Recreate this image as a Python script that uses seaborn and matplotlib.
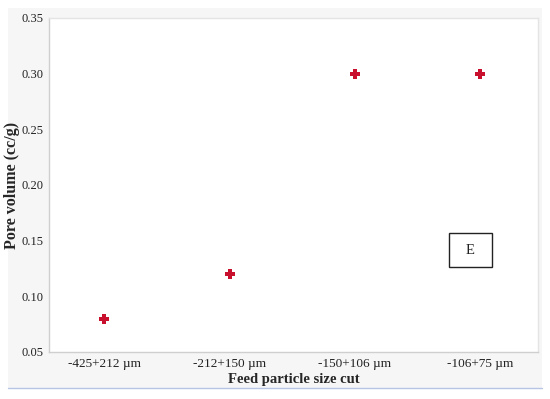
import matplotlib
matplotlib.use("Agg")
import matplotlib.pyplot as plt
import seaborn as sns
import pandas as pd
from matplotlib.patches import Rectangle

categories = ["-425+212 µm", "-212+150 µm", "-150+106 µm", "-106+75 µm"]
pore_volume = [0.08, 0.12, 0.30, 0.30]
y_ticks = [0.05, 0.10, 0.15, 0.20, 0.25, 0.30, 0.35]

sns.set_theme(style="white")
plt.rcParams['font.family'] = ['Liberation Serif', 'DejaVu Serif']

df = pd.DataFrame({"cut": categories, "pv": pore_volume})

fig = plt.figure(figsize=(5.5, 3.99), dpi=100, facecolor="white")
# light gray panel background
fig.patches.append(Rectangle((8/550, 1-388/399), 534/550, 380/399,
                             transform=fig.transFigure, facecolor="#f6f6f6",
                             edgecolor="none", zorder=-10))
fig.lines.append(plt.Line2D([8/550, 542/550], [1-388/399, 1-388/399],
                            transform=fig.transFigure, color="#b8c4e6", lw=1))

ax = fig.add_axes([49/550, 1-352/399, 489/550, 334/399])
ax.set_facecolor("white")

sns.scatterplot(data=df, x="cut", y="pv", ax=ax, marker="P", s=60,
                color="#c8102e", edgecolor="#c8102e", linewidth=0, zorder=3)

ax.set_xlim(-0.44, 3.46)
ax.set_ylim(0.05, 0.35)
ax.set_yticks(y_ticks)
ax.set_yticklabels([f"{t:.2f}" for t in y_ticks])
ax.tick_params(axis="y", length=0, labelsize=9, colors="#222222", pad=4)
ax.tick_params(axis="x", length=0, labelsize=9.5, colors="#222222", pad=4)

for side in ["left", "bottom"]:
    ax.spines[side].set_color("#cfcfcf")
    ax.spines[side].set_linewidth(1)
for side in ["top", "right"]:
    ax.spines[side].set_color("#e4e4e4")
    ax.spines[side].set_linewidth(1)

ax.set_xlabel("Feed particle size cut", fontsize=10.5, fontweight="bold")
ax.set_ylabel("Pore volume (cc/g)", fontsize=11.5, fontweight="bold")
ax.xaxis.set_label_coords(0.5, -0.063)
ax.yaxis.set_label_coords(-0.06, 0.5)

ax.add_patch(Rectangle((0.818, 0.254), 0.088, 0.102, transform=ax.transAxes,
                       facecolor="white", edgecolor="#222222", linewidth=1,
                       zorder=4))
ax.text(0.862, 0.305, "E", transform=ax.transAxes, fontsize=10.5,
        ha="center", va="center", color="#222222", zorder=5)

fig.savefig("out.png", dpi=100)
